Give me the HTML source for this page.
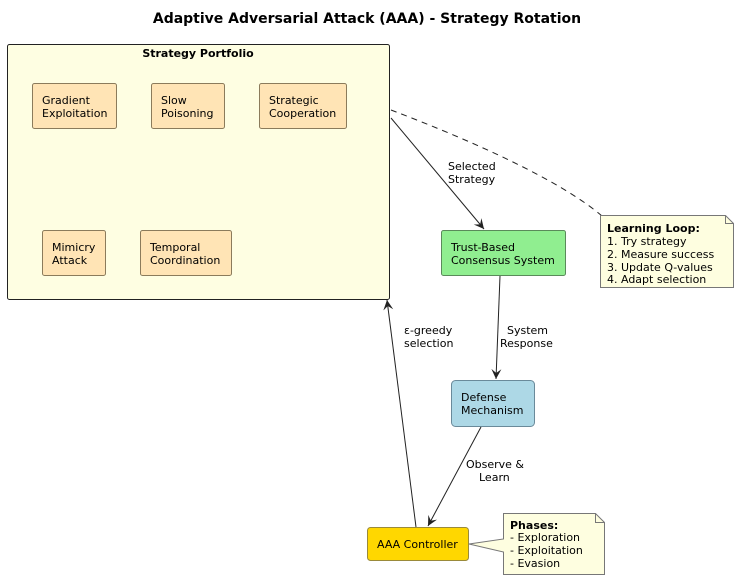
<!DOCTYPE html>
<html><head><meta charset="utf-8"><style>body{margin:0;background:#fff}svg{display:block}text{font-family:"DejaVu Sans","Liberation Sans",sans-serif;font-size:11px;fill:#000}</style></head><body>
<svg width="735" height="580" viewBox="0 0 735 580">
<defs><marker id="a" markerWidth="12" markerHeight="12" refX="10" refY="5" orient="auto" markerUnits="userSpaceOnUse"><path d="M0,0 L10,5 L0,10 L4,5 Z" fill="#222"/></marker></defs>
<text x="367" y="23" text-anchor="middle" style="font-size:14px;font-weight:bold">Adaptive Adversarial Attack (AAA) - Strategy Rotation</text>
<rect x="7.5" y="44.5" width="382" height="255" rx="2" fill="#FEFEE2" stroke="#222"/>
<text x="198" y="57" text-anchor="middle" style="font-weight:bold">Strategy Portfolio</text>
<g fill="#FFE4B5" stroke="#8B7B5B">
<rect x="32.5" y="83.5" width="84" height="45" rx="2"/>
<rect x="151.5" y="83.5" width="73" height="45" rx="2"/>
<rect x="259.5" y="83.5" width="87" height="45" rx="2"/>
<rect x="42.5" y="230.5" width="63" height="45" rx="2"/>
<rect x="140.5" y="230.5" width="91" height="45" rx="2"/>
</g>
<text x="42" y="104">Gradient</text><text x="42" y="117">Exploitation</text>
<text x="161" y="104">Slow</text><text x="161" y="117">Poisoning</text>
<text x="269" y="104">Strategic</text><text x="269" y="117">Cooperation</text>
<text x="52" y="251">Mimicry</text><text x="52" y="264">Attack</text>
<text x="150" y="251">Temporal</text><text x="150" y="264">Coordination</text>
<rect x="441.5" y="230.5" width="124" height="45" rx="2" fill="#90EE90" stroke="#5a8a5a"/>
<text x="451" y="251">Trust-Based</text><text x="451" y="264">Consensus System</text>
<rect x="451.5" y="380.5" width="83" height="46" rx="4" fill="#ADD8E6" stroke="#6a8a9a"/>
<text x="461" y="401">Defense</text><text x="461" y="414">Mechanism</text>
<rect x="367.5" y="527.5" width="101" height="33" rx="3" fill="#FFD700" stroke="#9a8a3a"/>
<text x="377" y="548">AAA Controller</text>
<path d="M391,110 C470,140 560,180 602,216" fill="none" stroke="#222" stroke-dasharray="6,5"/>
<line x1="391" y1="118" x2="484" y2="229" stroke="#222" marker-end="url(#a)"/>
<text x="448" y="170">Selected</text><text x="448" y="183">Strategy</text>
<line x1="500" y1="276" x2="496" y2="379" stroke="#222" marker-end="url(#a)"/>
<text x="507" y="334">System</text><text x="500" y="347">Response</text>
<line x1="481" y1="427" x2="428" y2="526" stroke="#222" marker-end="url(#a)"/>
<text x="466" y="468">Observe &amp;</text><text x="479" y="481">Learn</text>
<line x1="416" y1="527" x2="387" y2="300" stroke="#222" marker-end="url(#a)"/>
<text x="404" y="334">ε-greedy</text><text x="404" y="347">selection</text>
<path d="M600.5,215.5 H725.5 L733.5,223.5 V287.5 H600.5 Z" fill="#FEFEE0" stroke="#777"/>
<path d="M725.5,215.5 V223.5 H733.5" fill="none" stroke="#777"/>
<text x="607" y="232" style="font-weight:bold">Learning Loop:</text>
<text x="607" y="245">1. Try strategy</text><text x="607" y="258">2. Measure success</text>
<text x="607" y="271">3. Update Q-values</text><text x="607" y="283">4. Adapt selection</text>
<path d="M503.5,513.5 H595.5 L604.5,522.5 V574.5 H503.5 V552 L469,544 L503.5,539 Z" fill="#FEFEE0" stroke="#777"/>
<path d="M595.5,513.5 V522.5 H604.5" fill="none" stroke="#777"/>
<text x="510" y="529" style="font-weight:bold">Phases:</text>
<text x="510" y="541">- Exploration</text><text x="510" y="554">- Exploitation</text><text x="510" y="567">- Evasion</text>
</svg>
</body></html>
